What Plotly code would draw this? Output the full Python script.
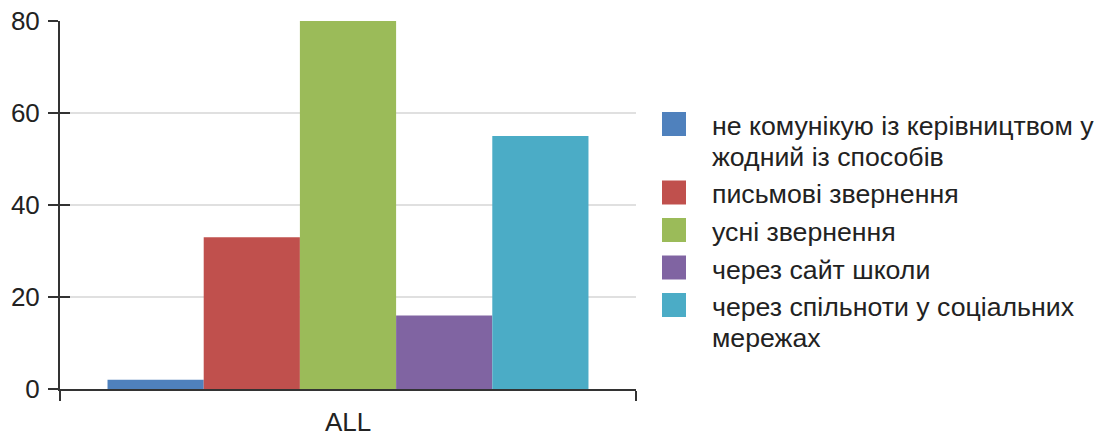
import plotly.graph_objects as go

categories = ["ALL"]
series_names = [
    "не комунікую із керівництвом у<br>жодний із способів",
    "письмові звернення",
    "усні звернення",
    "через сайт школи",
    "через спільноти у соціальних<br>мережах",
]
series_values = [2, 33, 80, 16, 55]
series_colors = ["#4F81BD", "#C0504D", "#9BBB59", "#8064A2", "#4BACC6"]
y_ticks = [0, 20, 40, 60, 80]

W, H = 1105, 439
ML, MR, MT, MB = 60, 469, 21, 50
PW, PH = W - ML - MR, H - MT - MB
FONT = "Arial, Liberation Sans, sans-serif"
FS = 26
LFS = 26.7

def px_x(px):  # page pixel -> paper
    return (px - ML) / PW

def px_y(py):
    return (H - MB - py) / PH

fig = go.Figure()
for name, val, col in zip(series_names, series_values, series_colors):
    fig.add_trace(go.Bar(x=categories, y=[val], name=name.replace("<br>", " "),
                         marker_color=col, marker_line_width=0, showlegend=False))

# dummy trace for overlay axes (crossing ticks)
fig.add_trace(go.Scatter(x=categories, y=[None], xaxis="x2", yaxis="y3",
                         showlegend=False, hoverinfo="skip"))

# manual legend
sq = 24
top = 112
pitch = 31
shapes = []
annotations = []
for name, col in zip(series_names, series_colors):
    lines = name.split("<br>")
    shapes.append(dict(type="rect", xref="paper", yref="paper",
                       x0=px_x(662), x1=px_x(662 + sq), y0=px_y(top), y1=px_y(top + sq),
                       fillcolor=col, line_width=0))
    for i, ln in enumerate(lines):
        annotations.append(dict(xref="paper", yref="paper", x=px_x(710),
                                y=px_y(top + 14 + i * pitch),
                                xanchor="left", yanchor="middle", align="left",
                                showarrow=False, text=ln,
                                font=dict(family=FONT, size=LFS, color="#222")))
    top += len(lines) * pitch + 6.5

fig.update_layout(
    template="none",
    width=W, height=H,
    margin=dict(l=ML, r=MR, t=MT, b=MB, autoexpand=False),
    paper_bgcolor="white", plot_bgcolor="white",
    bargap=0.165, bargroupgap=0,
    font=dict(family=FONT, size=FS, color="#222"),
    shapes=shapes, annotations=annotations,
    xaxis=dict(type="category", range=[-0.5, 0.5], tickson="boundaries",
               ticks="outside", ticklen=10, tickwidth=1.5, tickcolor="#333",
               showline=True, linecolor="#333", linewidth=2,
               showgrid=True, gridcolor="#e0e0e0", gridwidth=1.5,
               tickfont=dict(size=FS, color="#222"), zeroline=False,
               automargin=False, ticklabelstandoff=9, ticklabeloverflow="allow"),
    xaxis2=dict(type="category", range=[-0.5, 0.5], overlaying="x", anchor="y",
                side="bottom", tickson="boundaries", ticks="inside", ticklen=10,
                tickwidth=1.5, tickcolor="#333", showticklabels=False,
                showgrid=False, showline=False, zeroline=False, automargin=False),
    yaxis=dict(range=[0, 80], tickvals=y_ticks, ticks="outside", ticklen=10,
               tickwidth=1.5, tickcolor="#333", showline=True, linecolor="#333",
               linewidth=2, showgrid=True, gridcolor="#e0e0e0", gridwidth=1.5,
               zeroline=False, tickfont=dict(size=FS, color="#222"),
               ticklabelstandoff=3, automargin=False, ticklabeloverflow="allow"),
    yaxis2=dict(range=[0, 80], overlaying="y", side="right", anchor="x",
                showline=True, linecolor="#e0e0e0", linewidth=1.5,
                showticklabels=False, ticks="", showgrid=False, zeroline=False,
                automargin=False),
    yaxis3=dict(range=[0, 80], overlaying="y", side="left", anchor="x",
                tickvals=y_ticks, ticks="inside", ticklen=10, tickwidth=1.5,
                tickcolor="#333", showticklabels=False, showgrid=False,
                showline=False, zeroline=False, automargin=False),
)

fig.write_html("out.html",
               config={"displayModeBar": False},
               post_script="document.body.style.margin='0';document.body.style.overflow='hidden';")
